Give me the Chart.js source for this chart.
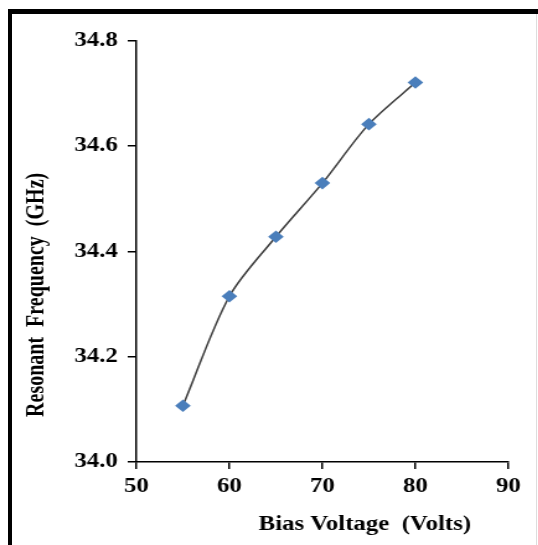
<!DOCTYPE html>
<html>
<head>
<meta charset="utf-8">
<script src="https://cdn.jsdelivr.net/npm/chart.js@4"></script>
<style>
  html, body { margin: 0; padding: 0; background: #fff; }
  body { position: relative; width: 538px; height: 545px; overflow: hidden; }
  #frame {
    position: absolute; left: 8px; top: 9px; right: -20px; bottom: -20px;
    border-top: 5px solid #000; border-left: 4px solid #000;
  }
  #edge { position: absolute; left: 536px; top: 14px; width: 1px; bottom: 0; background: #ddd; }
  /* the plot is drawn narrow and widened, so the serif text looks stretched */
  #wrap { position: absolute; left: 0; top: 0; transform: scaleX(1.24); transform-origin: 0 0; }
</style>
</head>
<body>
<div id="wrap"><canvas id="freqChart" width="434" height="545"></canvas></div>
<div id="frame"></div>
<div id="edge"></div>
<script>
const voltages = [55, 60, 65, 70, 75, 80];
const frequencies = [34.107, 34.315, 34.428, 34.53, 34.642, 34.721];
const xTicks = [50, 60, 70, 80, 90];
const yTicks = [34.0, 34.2, 34.4, 34.6, 34.8];
const xTitle = 'Bias Voltage  (Volts)';
const yTitle = 'Resonant  Frequency  (GHz)';

const serif = "'Times New Roman', 'Liberation Serif', serif";
Chart.defaults.font.family = serif;
Chart.defaults.font.size = 20;
Chart.defaults.font.weight = 'bold';
Chart.defaults.color = '#000';

// axis titles sit off-centre, so draw them by hand
const axisTitles = {
  id: 'axisTitles',
  afterDraw(chart) {
    const { ctx, chartArea: a } = chart;
    ctx.save();
    ctx.font = 'bold 20px ' + serif;
    ctx.fillStyle = '#000';
    ctx.textAlign = 'center';
    ctx.textBaseline = 'alphabetic';
    ctx.fillText(xTitle, a.left + (a.right - a.left) * 0.614, chart.height - 15);
    ctx.translate(30, a.top + (a.bottom - a.top) * 0.603);
    ctx.rotate(-Math.PI / 2);
    ctx.textBaseline = 'middle';
    ctx.fillText(yTitle, 0, 0);
    ctx.restore();
  }
};

const axisLine = { color: '#000', width: 1.5 };
const outerTicks = { drawOnChartArea: false, drawTicks: true, tickLength: 7, color: '#000', lineWidth: 1.5 };

new Chart(document.getElementById('freqChart'), {
  type: 'line',
  data: {
    datasets: [{
      data: voltages.map((v, i) => ({ x: v, y: frequencies[i] })),
      borderColor: '#3a3a3a',
      borderWidth: 1.5,
      tension: 0.3,
      pointStyle: 'rectRot',
      pointRadius: 6.3,
      pointBorderWidth: 0,
      pointBackgroundColor: '#4A7EBB'
    }]
  },
  options: {
    responsive: false,
    devicePixelRatio: 1,
    animation: false,
    layout: { padding: { left: 0, top: 41, right: 24, bottom: 0 } },
    plugins: { legend: { display: false }, tooltip: { enabled: false } },
    scales: {
      x: {
        type: 'linear',
        min: xTicks[0],
        max: xTicks[xTicks.length - 1],
        afterBuildTicks: s => { s.ticks = xTicks.map(v => ({ value: v })); },
        afterFit: s => { s.height = 83; },
        grid: outerTicks,
        border: axisLine,
        ticks: { padding: 6, callback: v => v }
      },
      y: {
        min: yTicks[0],
        max: yTicks[yTicks.length - 1],
        afterBuildTicks: s => { s.ticks = yTicks.map(v => ({ value: v })); },
        afterFit: s => { s.width = 110; },
        grid: outerTicks,
        border: axisLine,
        ticks: { padding: 8, callback: v => v.toFixed(1) }
      }
    }
  },
  plugins: [axisTitles]
});
</script>
</body>
</html>
